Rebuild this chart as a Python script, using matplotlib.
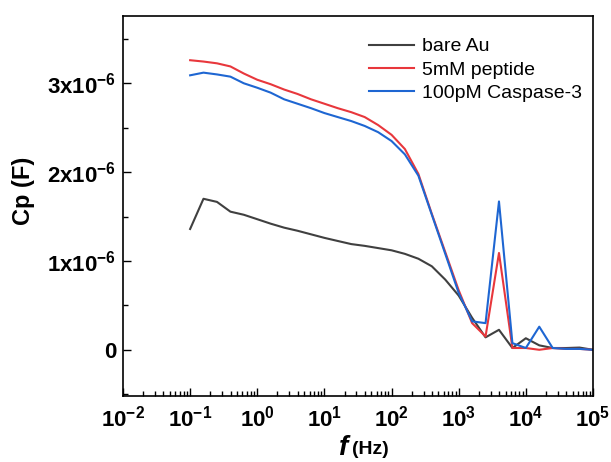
import math
import matplotlib
matplotlib.use('Agg')
import matplotlib.pyplot as plt
from matplotlib.ticker import FuncFormatter, LogLocator, MultipleLocator, NullFormatter

plt.rcParams['font.family'] = ['Liberation Sans', 'DejaVu Sans']
plt.rcParams['font.weight'] = 'bold'

# frequency points (Hz), 5 per decade
freq = [0.1, 0.158, 0.251, 0.398, 0.631,
        1, 1.58, 2.51, 3.98, 6.31,
        10, 15.8, 25.1, 39.8, 63.1,
        100, 158, 251, 398, 631,
        1000, 1585, 2512, 3981, 6310,
        10000, 15849, 25119, 39811, 63096, 100000]

# Cp in units of 1e-6 F
bare_au = [1.36, 1.70, 1.665, 1.555, 1.52,
           1.47, 1.42, 1.375, 1.34, 1.30,
           1.26, 1.225, 1.19, 1.17, 1.145,
           1.12, 1.08, 1.025, 0.94, 0.79,
           0.61, 0.36, 0.14, 0.225, 0.02,
           0.13, 0.05, 0.02, 0.02, 0.025, 0.0]
peptide = [3.26, 3.245, 3.225, 3.19, 3.11,
           3.04, 2.99, 2.93, 2.88, 2.82,
           2.77, 2.72, 2.675, 2.62, 2.53,
           2.42, 2.26, 1.98, 1.53, 1.10,
           0.67, 0.30, 0.15, 1.09, 0.02,
           0.02, 0.0, 0.02, 0.01, 0.01, 0.0]
caspase = [3.09, 3.12, 3.10, 3.075, 3.0,
           2.95, 2.895, 2.82, 2.77, 2.72,
           2.665, 2.62, 2.575, 2.52, 2.45,
           2.35, 2.20, 1.96, 1.52, 1.08,
           0.64, 0.32, 0.30, 1.67, 0.075,
           0.02, 0.26, 0.02, 0.01, 0.01, 0.0]

labels = ['bare Au', '5mM peptide', '100pM Caspase-3']
colors = ['#404040', '#e8373c', '#1e66d2']

fig = plt.figure(figsize=(6.11, 4.62), dpi=100)
ax = fig.add_axes([0.2013, 0.1429, 0.7692, 0.8229])

for vals, lab, col in zip([bare_au, peptide, caspase], labels, colors):
    ax.plot(freq, [v * 1e-6 for v in vals], color=col, lw=1.5, label=lab)

ax.set_xscale('log')
ax.set_xlim(1e-2, 1e5)
ax.set_ylim(-0.52e-6, 3.76e-6)

ax.xaxis.set_major_locator(LogLocator(base=10, numticks=20))
ax.xaxis.set_minor_locator(LogLocator(base=10, subs=range(2, 10), numticks=20))
ax.xaxis.set_minor_formatter(NullFormatter())
ax.xaxis.set_major_formatter(FuncFormatter(
    lambda v, p: r'$\mathregular{10^{%d}}$' % round(math.log10(v))))

ax.yaxis.set_major_locator(MultipleLocator(1e-6))
ax.yaxis.set_minor_locator(MultipleLocator(0.5e-6))


def yfmt(v, p):
    n = round(v / 1e-6)
    if n == 0:
        return '0'
    return r'$\mathregular{%dx10^{-6}}$' % n


ax.yaxis.set_major_formatter(FuncFormatter(yfmt))

ax.tick_params(which='both', direction='in', top=False, right=False, width=1.0)
ax.tick_params(which='major', length=6, labelsize=16, pad=7)
ax.tick_params(which='minor', length=3.5)
ax.tick_params(axis='y', labelsize=16, pad=5)
for s in ax.spines.values():
    s.set_linewidth(1.2)

ax.set_ylabel('Cp (F)', fontsize=17, fontweight='bold')
ax.yaxis.set_label_coords(-0.187, 0.54)

# x label: bold italic f, smaller (Hz)
ax.text(0.48, -0.137, 'f', transform=ax.transAxes, fontsize=20,
        fontweight='bold', fontstyle='italic', ha='right', va='center')
ax.text(0.488, -0.142, '(Hz)', transform=ax.transAxes, fontsize=14,
        fontweight='bold', ha='left', va='center')

ax.legend(loc='upper left', bbox_to_anchor=(0.524, 0.942), frameon=False,
          prop={'family': 'Liberation Sans', 'weight': 'normal', 'size': 14},
          handlelength=2.3, handletextpad=0.4, labelspacing=0.28,
          borderpad=0, borderaxespad=0)

fig.savefig('out.png', dpi=100)
